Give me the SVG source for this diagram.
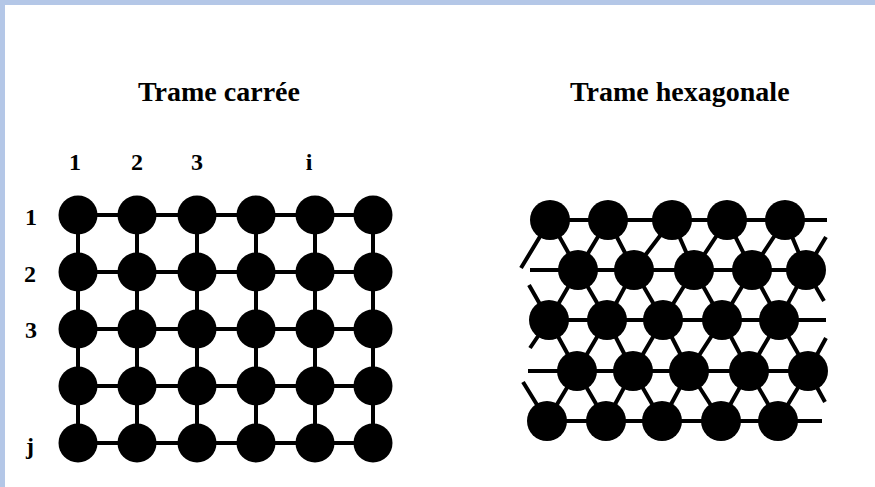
<svg xmlns="http://www.w3.org/2000/svg" width="875" height="487" viewBox="0 0 875 487">
<style>
.bg{fill:#ffffff}
.frame{fill:#b4c7e7}
.t{font-family:"Liberation Serif","Times New Roman",serif;font-weight:bold;fill:#000}
.title{font-size:28px}
.lab{font-size:24px;text-anchor:middle}
.ln{stroke:#000;stroke-width:4;fill:none;stroke-linecap:butt}
.dot{fill:#000}
</style>
<rect class="bg" x="0" y="0" width="875" height="487"/>
<rect class="frame" x="0" y="0" width="875" height="5"/>
<rect class="frame" x="0" y="0" width="5" height="487"/>

<g id="titles">
<text class="t title" x="138" y="101">Trame carrée</text>
<text class="t title" x="570" y="101">Trame hexagonale</text>
</g>
<g id="labels">
<text class="t lab" x="75" y="170">1</text>
<text class="t lab" x="137" y="170">2</text>
<text class="t lab" x="197" y="170">3</text>
<text class="t lab" x="309" y="170">i</text>
<text class="t lab" x="31" y="225">1</text>
<text class="t lab" x="30" y="282">2</text>
<text class="t lab" x="31" y="338">3</text>
<text class="t lab" x="30" y="454">j</text>
</g>

<g id="connectors">
<g id="square-lines">
<path class="ln" d="M78 215H373M78 272H373M78 329H373M78 386H373M78 443H373"/>
<path class="ln" d="M78 215V443M137 215V443M197 215V443M256 215V443M315 215V443M373 215V443"/>
</g>
<g id="hex-lines">
<path class="ln" d="M550 220H827M530 270H806M549 320H826M528 371H808M547 421H822"/>
<path class="ln" d="M550 220L578 270M608 220L634 270M672 220L694 270M727 220L752 270M785 220L806 270
M608 220L578 270M672 220L634 270M727 220L694 270M785 220L752 270
M550 220L521 268M806 270L826 237"/>
<path class="ln" d="M578 270L549 320M634 270L607 320M694 270L663 320M752 270L722 320M806 270L779 320
M578 270L607 320M634 270L663 320M694 270L722 320M752 270L779 320M806 270L824 301
M549 320L529 285"/>
<path class="ln" d="M577 371L549 320M633 371L607 320M689 371L663 320M749 371L722 320M808 371L779 320
M577 371L607 320M633 371L663 320M689 371L722 320M749 371L779 320M808 371L826 338
M549 320L530 348"/>
<path class="ln" d="M577 371L547 421M633 371L606 421M689 371L662 421M749 371L721 421M808 371L778 421
M577 371L606 421M633 371L662 421M689 371L721 421M749 371L778 421M808 371L825 402
M547 421L523 382"/>
</g>
</g>

<g id="square-nodes">
<g id="s-1-1"><circle class="dot" cx="78" cy="215" r="19.5"/></g>
<g id="s-1-2"><circle class="dot" cx="137" cy="215" r="19.5"/></g>
<g id="s-1-3"><circle class="dot" cx="197" cy="215" r="19.5"/></g>
<g id="s-1-4"><circle class="dot" cx="256" cy="215" r="19.5"/></g>
<g id="s-1-5"><circle class="dot" cx="315" cy="215" r="19.5"/></g>
<g id="s-1-6"><circle class="dot" cx="373" cy="215" r="19.5"/></g>
<g id="s-2-1"><circle class="dot" cx="78" cy="272" r="19.5"/></g>
<g id="s-2-2"><circle class="dot" cx="137" cy="272" r="19.5"/></g>
<g id="s-2-3"><circle class="dot" cx="197" cy="272" r="19.5"/></g>
<g id="s-2-4"><circle class="dot" cx="256" cy="272" r="19.5"/></g>
<g id="s-2-5"><circle class="dot" cx="315" cy="272" r="19.5"/></g>
<g id="s-2-6"><circle class="dot" cx="373" cy="272" r="19.5"/></g>
<g id="s-3-1"><circle class="dot" cx="78" cy="329" r="19.5"/></g>
<g id="s-3-2"><circle class="dot" cx="137" cy="329" r="19.5"/></g>
<g id="s-3-3"><circle class="dot" cx="197" cy="329" r="19.5"/></g>
<g id="s-3-4"><circle class="dot" cx="256" cy="329" r="19.5"/></g>
<g id="s-3-5"><circle class="dot" cx="315" cy="329" r="19.5"/></g>
<g id="s-3-6"><circle class="dot" cx="373" cy="329" r="19.5"/></g>
<g id="s-4-1"><circle class="dot" cx="78" cy="386" r="19.5"/></g>
<g id="s-4-2"><circle class="dot" cx="137" cy="386" r="19.5"/></g>
<g id="s-4-3"><circle class="dot" cx="197" cy="386" r="19.5"/></g>
<g id="s-4-4"><circle class="dot" cx="256" cy="386" r="19.5"/></g>
<g id="s-4-5"><circle class="dot" cx="315" cy="386" r="19.5"/></g>
<g id="s-4-6"><circle class="dot" cx="373" cy="386" r="19.5"/></g>
<g id="s-5-1"><circle class="dot" cx="78" cy="443" r="19.5"/></g>
<g id="s-5-2"><circle class="dot" cx="137" cy="443" r="19.5"/></g>
<g id="s-5-3"><circle class="dot" cx="197" cy="443" r="19.5"/></g>
<g id="s-5-4"><circle class="dot" cx="256" cy="443" r="19.5"/></g>
<g id="s-5-5"><circle class="dot" cx="315" cy="443" r="19.5"/></g>
<g id="s-5-6"><circle class="dot" cx="373" cy="443" r="19.5"/></g>
</g>

<g id="hex-nodes">
<g id="h-1-1"><circle class="dot" cx="550" cy="220" r="20"/></g>
<g id="h-1-2"><circle class="dot" cx="608" cy="220" r="20"/></g>
<g id="h-1-3"><circle class="dot" cx="672" cy="220" r="20"/></g>
<g id="h-1-4"><circle class="dot" cx="727" cy="220" r="20"/></g>
<g id="h-1-5"><circle class="dot" cx="785" cy="220" r="20"/></g>
<g id="h-2-1"><circle class="dot" cx="578" cy="270" r="20"/></g>
<g id="h-2-2"><circle class="dot" cx="634" cy="270" r="20"/></g>
<g id="h-2-3"><circle class="dot" cx="694" cy="270" r="20"/></g>
<g id="h-2-4"><circle class="dot" cx="752" cy="270" r="20"/></g>
<g id="h-2-5"><circle class="dot" cx="806" cy="270" r="20"/></g>
<g id="h-3-1"><circle class="dot" cx="549" cy="320" r="20"/></g>
<g id="h-3-2"><circle class="dot" cx="607" cy="320" r="20"/></g>
<g id="h-3-3"><circle class="dot" cx="663" cy="320" r="20"/></g>
<g id="h-3-4"><circle class="dot" cx="722" cy="320" r="20"/></g>
<g id="h-3-5"><circle class="dot" cx="779" cy="320" r="20"/></g>
<g id="h-4-1"><circle class="dot" cx="577" cy="371" r="20"/></g>
<g id="h-4-2"><circle class="dot" cx="633" cy="371" r="20"/></g>
<g id="h-4-3"><circle class="dot" cx="689" cy="371" r="20"/></g>
<g id="h-4-4"><circle class="dot" cx="749" cy="371" r="20"/></g>
<g id="h-4-5"><circle class="dot" cx="808" cy="371" r="20"/></g>
<g id="h-5-1"><circle class="dot" cx="547" cy="421" r="20"/></g>
<g id="h-5-2"><circle class="dot" cx="606" cy="421" r="20"/></g>
<g id="h-5-3"><circle class="dot" cx="662" cy="421" r="20"/></g>
<g id="h-5-4"><circle class="dot" cx="721" cy="421" r="20"/></g>
<g id="h-5-5"><circle class="dot" cx="778" cy="421" r="20"/></g>
</g>
</svg>
